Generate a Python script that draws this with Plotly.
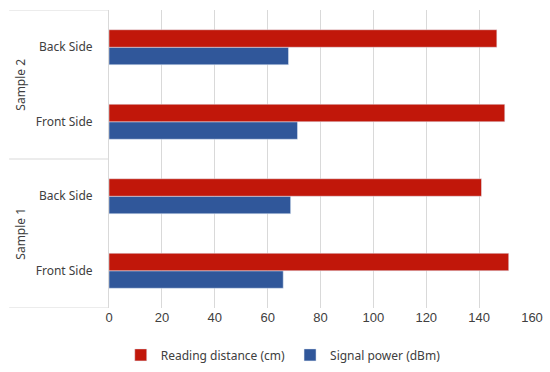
import plotly.graph_objects as go

groups = ["Sample 1", "Sample 1", "Sample 2", "Sample 2"]
sides = ["Front Side", "Back Side", "Front Side", "Back Side"]
reading_distance = [151.2, 140.9, 149.7, 146.7]
signal_power = [65.9, 68.7, 71.3, 67.9]
x_ticks = [0, 20, 40, 60, 80, 100, 120, 140, 160]

pos = list(range(len(sides)))
RED = "#C1170A"
BLUE = "#30579A"
GRID = "#D9D9D9"

fig = go.Figure()
fig.add_trace(go.Bar(y=pos, x=signal_power, orientation="h", name="Signal power (dBm)",
                     marker=dict(color=BLUE), legendrank=2))
fig.add_trace(go.Bar(y=pos, x=reading_distance, orientation="h", name="Reading distance (cm)",
                     marker=dict(color=RED), legendrank=1))

label_font = dict(family="Noto Sans, Open Sans, sans-serif", size=12, color="#404040")

# group labels & dividers
uniq = []
for g in groups:
    if g not in uniq:
        uniq.append(g)
for g in uniq:
    idx = [i for i, gg in enumerate(groups) if gg == g]
    fig.add_annotation(x=-0.21, xref="paper", y=sum(idx) / len(idx), yref="y",
                       text=g, textangle=-90, showarrow=False, font=label_font,
                       xanchor="center", yanchor="middle")
bounds = [-0.5] + [i + 0.5 for i in range(len(groups)) if i == len(groups) - 1 or groups[i] != groups[i + 1]]
for b in bounds:
    fig.add_shape(type="line", xref="paper", x0=-0.236, x1=0, yref="y", y0=b, y1=b,
                  line=dict(color=GRID, width=1))

fig.update_layout(
    width=550, height=372,
    margin=dict(l=109, r=18, t=10, b=64, autoexpand=False),
    paper_bgcolor="white", plot_bgcolor="white",
    barmode="group", bargap=0.53, bargroupgap=0,
    showlegend=True,
    legend=dict(orientation="h", xref="container", yref="container",
                x=0.515, xanchor="center", y=0.046, yanchor="middle",
                font=dict(family="Noto Sans, Open Sans, sans-serif", size=12, color="#404040"),
                itemwidth=30, traceorder="normal"),
    xaxis=dict(range=[0, 160], tickvals=x_ticks, showgrid=True, gridcolor=GRID, gridwidth=1,
               zeroline=False, showline=False, ticks="", automargin=False,
               tickfont=dict(family="Liberation Sans, Arial, sans-serif", size=13, color="#404040")),
    yaxis=dict(range=[-0.5, 3.5], tickvals=pos, ticktext=sides, showgrid=False, zeroline=False,
               showline=True, linecolor=GRID, linewidth=1, ticks="outside", ticklen=13,
               tickcolor="rgba(0,0,0,0)", tickfont=label_font, automargin=False),
)

fig.write_html("out.html", config={"displayModeBar": False},
               post_script="document.body.style.margin='0';")
